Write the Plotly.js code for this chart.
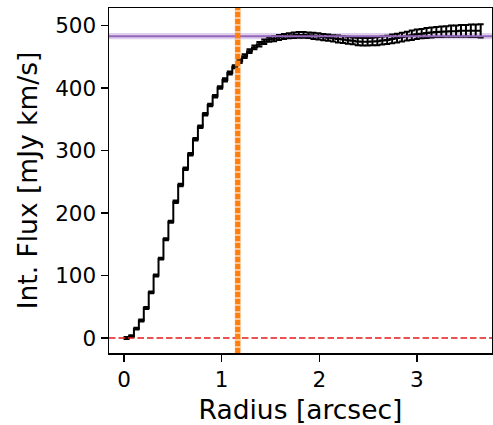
<!DOCTYPE html>
<html>
<head>
<meta charset="utf-8">
<script src="https://cdn.plot.ly/plotly-3.0.1.min.js"></script>
<style>html,body{margin:0;padding:0;background:#fff;}#chart{width:493px;height:425px;}</style>
</head>
<body>
<div id="chart"></div>
<script>
var radius = [0.025,0.075,0.126,0.176,0.227,0.277,0.327,0.378,0.428,0.479,
  0.529,0.579,0.630,0.680,0.731,0.781,0.831,0.882,0.932,0.983,
  1.033,1.083,1.134,1.184,1.235,1.285,1.335,1.386,1.436,1.487,
  1.537,1.587,1.638,1.688,1.739,1.789,1.839,1.890,1.940,1.991,
  2.041,2.091,2.142,2.192,2.243,2.293,2.343,2.394,2.444,2.495,
  2.545,2.595,2.646,2.696,2.747,2.797,2.847,2.898,2.948,2.999,
  3.049,3.099,3.150,3.200,3.251,3.301,3.351,3.402,3.452,3.503,
  3.553,3.603,3.654];
var flux = [0,3,15,28,48,73,100,127,158,186,
  218,245,271,294,318,338,358,373,387,401,
  413,424,434,443,451,459,465,470,474,477.5,
  479,481,482.5,483.5,484.5,485,485,484.5,483.5,482.5,
  481.5,480.5,479.5,478.5,477.5,476.5,475.5,474.5,474,474,
  474.5,475,476,477,478.5,480,481.5,483,484.5,486,
  487,488,489,489.5,490,490.5,491,491,491.5,491.5,
  491.5,491.5,491.5];
var fluxErr = [1.5,1.5,1.5,1.5,1.5,1.5,1.5,1.5,1.5,1.5,
  2,2,2,2,2,2,2,2,2,2,
  2.5,2.5,2.5,3,3,3,3,3.5,3.5,3.5,
  4,4,4,4,4.5,4.5,4.5,4.5,5,5,
  5,5,5,5.5,5.5,5.5,5.5,6,6,6,
  6,6.5,6.5,6.5,7,7,7,7,7.5,7.5,
  7.5,8,8,8,8.5,8.5,9,9,9.5,9.5,
  10,10,10.5];
var totalFlux = 483;
var totalFluxErr = 5;
var rHalf = 1.164;
var rHalfErr = 0.03;
var xTicks = [0,1,2,3];
var yTicks = [0,100,200,300,400,500];

var font = 'DejaVu Sans, sans-serif';
var trace = {
  x: radius, y: flux, type: 'scatter', mode: 'lines',
  line: {shape: 'hvh', color: 'black', width: 2},
  error_y: {type: 'data', array: fluxErr, visible: true, color: 'black', thickness: 2, width: 3},
  showlegend: false, hoverinfo: 'skip'
};
var layout = {
  width: 493, height: 425,
  margin: {l: 109, r: 1, t: 8, b: 72},
  paper_bgcolor: '#fff', plot_bgcolor: '#fff',
  font: {family: font, color: 'black'},
  xaxis: {range: [-0.155, 3.77], tickvals: xTicks, ticktext: xTicks.map(String),
    ticks: 'outside', ticklen: 7, tickwidth: 1.5, tickcolor: 'black',
    showline: true, linecolor: 'black', linewidth: 1.5, mirror: true,
    showgrid: false, zeroline: false, tickfont: {size: 21.5, family: font},
    title: {text: 'Radius [arcsec]', font: {size: 26.5, family: font}, standoff: 10}},
  yaxis: {range: [-24, 528], tickvals: yTicks, ticktext: yTicks.map(String),
    ticks: 'outside', ticklen: 7, tickwidth: 1.5, tickcolor: 'black',
    showline: true, linecolor: 'black', linewidth: 1.5, mirror: true,
    showgrid: false, zeroline: false, tickfont: {size: 21.5, family: font},
    title: {text: 'Int. Flux [mJy km/s]', font: {size: 26.5, family: font}, standoff: 10}},
  shapes: [
    {type: 'rect', xref: 'paper', x0: 0, x1: 1, yref: 'y', y0: totalFlux - totalFluxErr, y1: totalFlux + totalFluxErr,
      fillcolor: 'rgba(148,103,189,0.3)', line: {width: 0}, layer: 'below'},
    {type: 'line', xref: 'paper', x0: 0, x1: 1, yref: 'y', y0: totalFlux, y1: totalFlux,
      line: {color: '#9467bd', width: 2}, layer: 'above'},
    {type: 'line', xref: 'paper', x0: 0, x1: 1, yref: 'y', y0: 0, y1: 0,
      line: {color: '#e41a1c', width: 1.5, dash: '6.5px,3px'}, layer: 'above'},
    {type: 'rect', xref: 'x', x0: rHalf - rHalfErr, x1: rHalf + rHalfErr, yref: 'paper', y0: 0, y1: 1,
      fillcolor: 'rgba(255,127,14,0.45)', line: {width: 0}, layer: 'above'},
    {type: 'line', xref: 'x', x0: rHalf, x1: rHalf, yref: 'paper', y0: 0, y1: 1,
      line: {color: '#ff7f0e', width: 5, dash: '5px,2px'}, layer: 'above'}
  ]
};
Plotly.newPlot('chart', [trace], layout, {staticPlot: true, displayModeBar: false});
</script>
</body>
</html>
